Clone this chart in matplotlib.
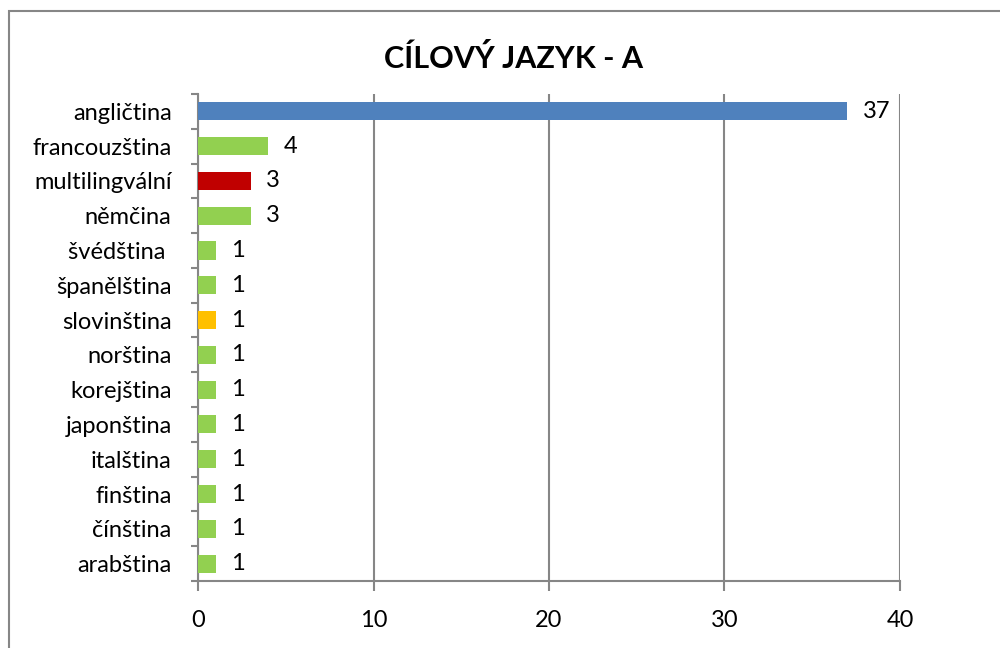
import matplotlib.pyplot as plt
from matplotlib.patches import Rectangle

languages = ['angličtina', 'francouzština', 'multilingvální', 'němčina',
             'švédština ', 'španělština', 'slovinština', 'norština',
             'korejština', 'japonština', 'italština', 'finština',
             'čínština', 'arabština']
counts = [37, 4, 3, 3, 1, 1, 1, 1, 1, 1, 1, 1, 1, 1]
colors = ['#4F81BD', '#92D050', '#C00000', '#92D050', '#92D050', '#92D050',
          '#FFC000', '#92D050', '#92D050', '#92D050', '#92D050', '#92D050',
          '#92D050', '#92D050']
xticks = [0, 10, 20, 30, 40]

plt.rcParams['font.family'] = ['Lato', 'DejaVu Sans']
grey = '#868686'

fig = plt.figure(figsize=(10, 6.48), dpi=100)
ax = fig.add_axes([0.198, 0.1034, 0.702, 0.7516])

pos = list(range(len(languages)))[::-1]
ax.barh(pos, counts, height=0.52, color=colors, zorder=3)
for y, v in zip(pos, counts):
    ax.annotate(str(v), (v, y), xytext=(11, 0), textcoords='offset points',
                va='center', ha='left', fontsize=17)

ax.set_xlim(0, 40)
ax.set_ylim(-0.5, len(languages) - 0.5)
ax.set_xticks(xticks)
ax.set_yticks(pos)
ax.set_yticklabels(languages)
# category separators on the y axis
ax.set_yticks([p - 0.5 for p in range(len(languages) + 1)], minor=True)
ax.tick_params(axis='y', which='major', length=0, pad=19, labelsize=17)
ax.tick_params(axis='y', which='minor', length=5, width=1.5, color=grey)
ax.tick_params(axis='x', length=7, width=1.5, color=grey, pad=14, labelsize=17)

ax.grid(axis='x', color=grey, linewidth=1.5, zorder=0)
for s in ['top', 'right']:
    ax.spines[s].set_visible(False)
for s in ['left', 'bottom']:
    ax.spines[s].set_color(grey)
    ax.spines[s].set_linewidth(1.5)

fig.text(0.513, 0.91, 'CÍLOVÝ JAZYK - A', ha='center', va='center',
         fontsize=22, fontweight='bold')

# chart border
fig.patches.append(Rectangle((9 / 1000, -0.05), 1.2, 1 - 11 / 648 + 0.05,
                             transform=fig.transFigure, fill=False,
                             edgecolor=grey, linewidth=1.5))

fig.savefig('out.png', dpi=100)
